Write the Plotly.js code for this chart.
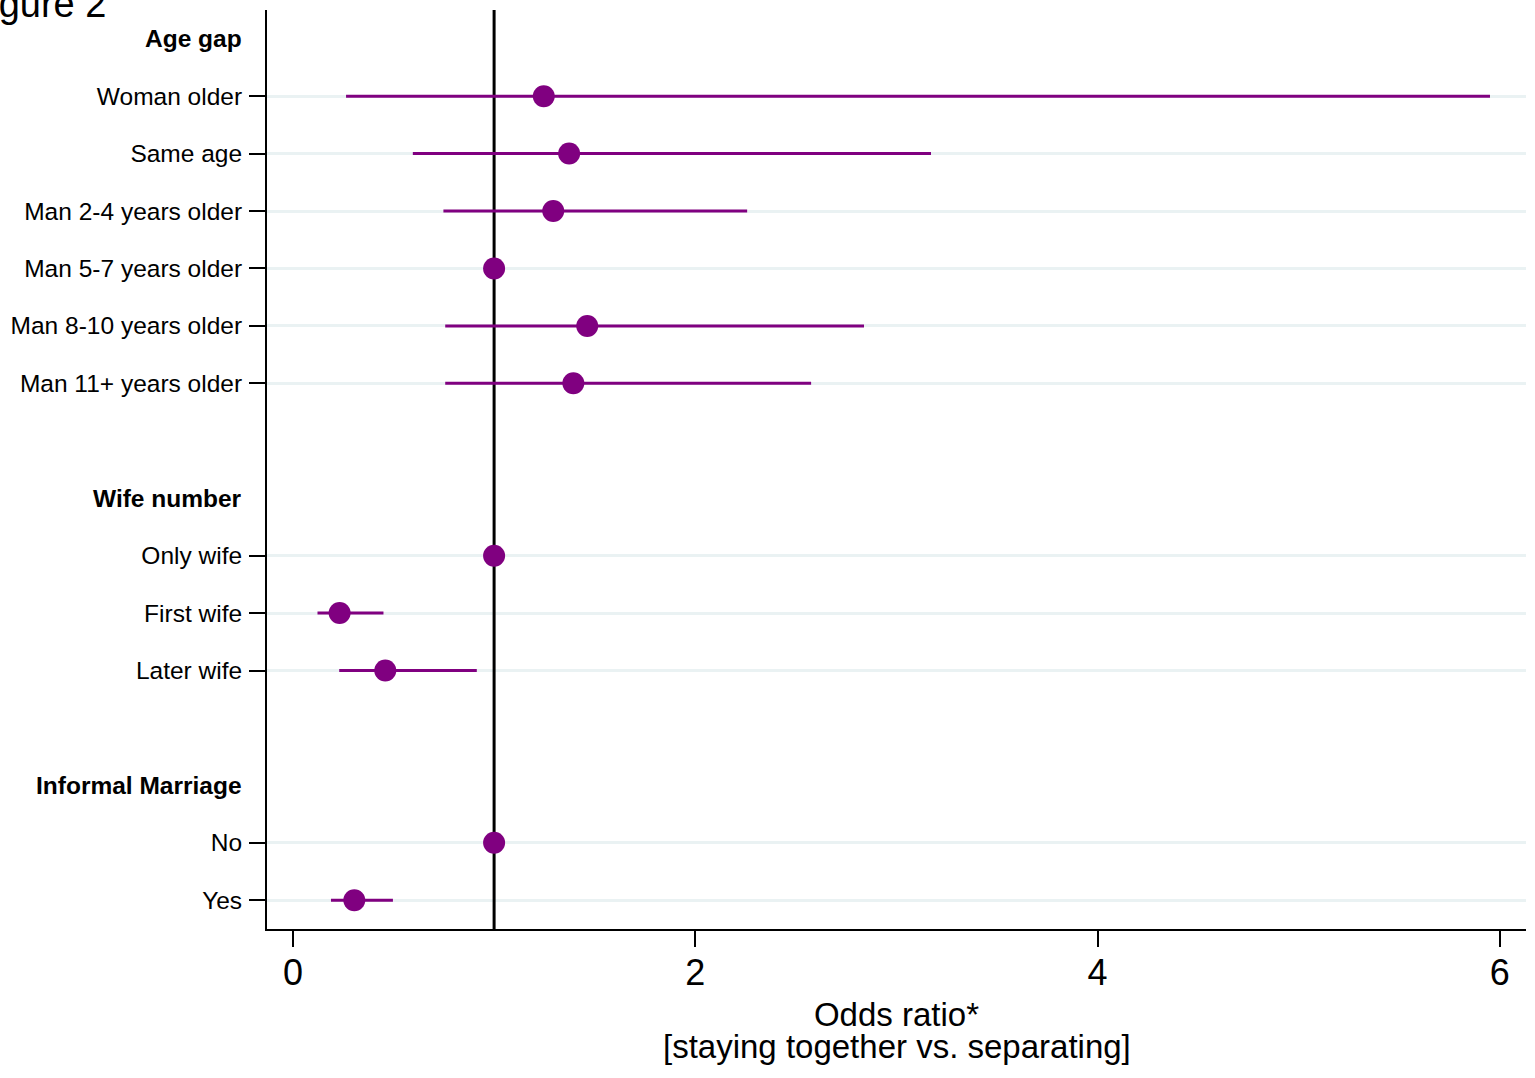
<!DOCTYPE html>
<html>
<head>
<meta charset="utf-8">
<script src="https://cdn.plot.ly/plotly-3.0.1.min.js"></script>
<style>html,body{margin:0;padding:0;background:#fff}#chart{width:1535px;height:1078px}</style>
</head>
<body>
<div id="chart"></div>
<script>
// ---- data ----
const groupTitles = ["Age gap", "Wife number", "Informal Marriage"];

const ageGapLabels = ["Woman older", "Same age", "Man 2-4 years older", "Man 5-7 years older", "Man 8-10 years older", "Man 11+ years older"];
const ageGapOR = [1.247, 1.373, 1.294, 1, 1.463, 1.394];
const ageGapLo = [0.264, 0.596, 0.748, 1, 0.757, 0.757];
const ageGapHi = [5.951, 3.172, 2.258, 1, 2.839, 2.576];

const wifeLabels = ["Only wife", "First wife", "Later wife"];
const wifeOR = [1, 0.232, 0.459];
const wifeLo = [1, 0.122, 0.230];
const wifeHi = [1, 0.450, 0.914];

const informalLabels = ["No", "Yes"];
const informalOR = [1, 0.305];
const informalLo = [1, 0.189];
const informalHi = [1, 0.497];

const referenceOR = 1;
const xTickVals = [0, 2, 4, 6];
const xTitle1 = "Odds ratio*";
const xTitle2 = "[staying together vs. separating]";
const figLabel = "Figure 2";

// ---- build rows (header, items, blank spacer) ----
const groups = [
  {labels: ageGapLabels, or: ageGapOR, lo: ageGapLo, hi: ageGapHi},
  {labels: wifeLabels, or: wifeOR, lo: wifeLo, hi: wifeHi},
  {labels: informalLabels, or: informalOR, lo: informalLo, hi: informalHi}
];
let row = 0;
const ys = [], xs = [], eplus = [], eminus = [], tickText = [], headerRows = [];
groups.forEach((g, gi) => {
  headerRows.push(row); row++;
  g.labels.forEach((lab, i) => {
    ys.push(row); xs.push(g.or[i]);
    eplus.push(g.hi[i] - g.or[i]); eminus.push(g.or[i] - g.lo[i]);
    tickText.push(lab); row++;
  });
  if (gi < groups.length - 1) row++;
});
const nRows = row;
const yRange = [nRows - 0.5, -0.5];

const purple = "#800080";
const refLine = {
  type: "scatter", mode: "lines",
  x: [referenceOR, referenceOR], y: yRange,
  line: {color: "#000", width: 3},
  hoverinfo: "skip", showlegend: false, cliponaxis: false
};
const trace = {
  type: "scatter", mode: "markers",
  x: xs, y: ys,
  marker: {color: purple, size: 22},
  error_x: {type: "data", array: eplus, arrayminus: eminus, symmetric: false,
            color: purple, thickness: 3, width: 0},
  hoverinfo: "x+y", showlegend: false
};

const font = "Liberation Sans, Arial, Helvetica, sans-serif";
const annotations = headerRows.map((r, i) => ({
  xref: "paper", yref: "y", x: 0, y: r, xanchor: "right", yanchor: "middle",
  xshift: -23, showarrow: false,
  text: "<b>" + groupTitles[i] + "</b>",
  font: {family: font, size: 24.5, color: "#000"}
}));
annotations.push({
  xref: "paper", yref: "paper", x: 0.5, y: 0, xanchor: "center", yanchor: "top",
  yshift: -97, showarrow: false, text: xTitle2,
  font: {family: font, size: 33, color: "#000"}
});
annotations.push({
  xref: "paper", yref: "paper", x: 0, y: 1, xanchor: "right", yanchor: "middle",
  xshift: -159, yshift: 6, showarrow: false, text: figLabel,
  font: {family: font, size: 38, color: "#000"}
});

const layout = {
  width: 1535, height: 1078,
  margin: {l: 267, r: 9, t: 10, b: 149},
  paper_bgcolor: "#fff", plot_bgcolor: "#fff",
  font: {family: font, color: "#000"},
  xaxis: {
    range: [-0.129, 6.130], tickvals: xTickVals, ticktext: xTickVals.map(String),
    showgrid: false, zeroline: false,
    showline: true, linecolor: "#000", linewidth: 2,
    ticks: "outside", ticklen: 16, tickwidth: 2, tickcolor: "#000",
    ticklabelstandoff: -5,
    tickfont: {family: font, size: 36, color: "#000"},
    title: {text: xTitle1, font: {family: font, size: 33, color: "#000"}, standoff: 11}
  },
  yaxis: {
    range: yRange, tickvals: ys, ticktext: tickText,
    showgrid: true, gridcolor: "#eaf2f3", gridwidth: 3,
    zeroline: false, showline: true, linecolor: "#000", linewidth: 2,
    ticks: "outside", ticklen: 16, tickwidth: 2, tickcolor: "#000",
    ticklabelstandoff: 2,
    tickfont: {family: font, size: 24.5, color: "#000"}
  },
  annotations: annotations
};

Plotly.newPlot("chart", [refLine, trace], layout, {displayModeBar: false, staticPlot: true});
</script>
</body>
</html>
